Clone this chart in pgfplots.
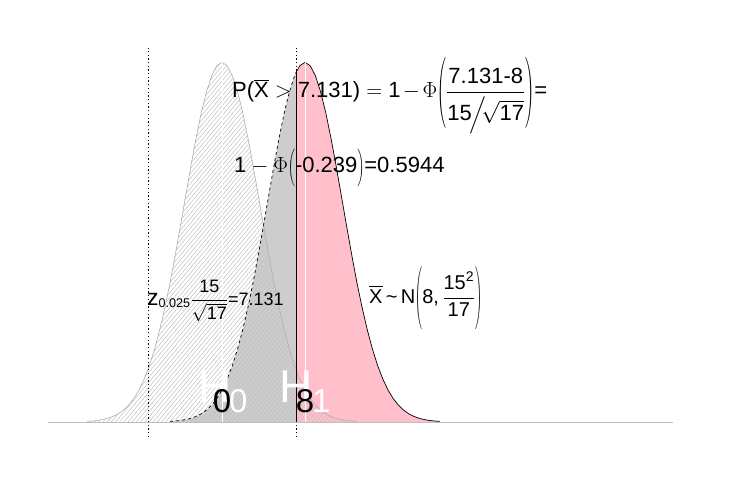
\RequirePackage{fix-cm}
\documentclass[border=0pt]{standalone}
\usepackage{amsmath}
\usepackage{graphicx}
\usepackage{fontspec}
\setmainfont{Liberation Sans}
\usepackage{pgfplots}
\usepackage{pgfplotstable}
\pgfplotsset{compat=1.18}
\usetikzlibrary{patterns.meta}

\definecolor{hfill}{RGB}{205,205,205}
\definecolor{hpink}{RGB}{255,192,203}
\definecolor{hatch}{RGB}{190,190,190}
\definecolor{hzeroline}{RGB}{175,175,175}
\definecolor{baseln}{RGB}{190,190,190}

% tall thin parentheses of a given width and total height, centred on the math axis
\newcommand{\lp}[2]{\mathopen{\vcenter{\hbox{\resizebox*{#1}{#2}{$\Biggl($}}}}}
\newcommand{\rp}[2]{\mathclose{\vcenter{\hbox{\resizebox*{#1}{#2}{$\Biggr)$}}}}}

% density of N(0, 15^2/17), x from -13 to 13
\pgfplotstableread{
x y
-13 0.000185
-12.5 0.000300
-12 0.000476
-11.5 0.000742
-11 0.001135
-10.5 0.001703
-10 0.002508
-9.5 0.003625
-9 0.005142
-8.5 0.007156
-8 0.009773
-7.5 0.013097
-7 0.017224
-6.5 0.022226
-6 0.028145
-5.5 0.034974
-5 0.042552
-4.5 0.051028
-4 0.059916
-3.5 0.069034
-3 0.078053
-2.5 0.086597
-2 0.094280
-1.5 0.100723
-1 0.105594
-0.5 0.108628
0 0.109659
0.5 0.108628
1 0.105594
1.5 0.100723
2 0.094280
2.5 0.086597
3 0.078053
3.5 0.069034
4 0.059916
4.5 0.051028
5 0.042552
5.5 0.034974
6 0.028145
6.5 0.022226
7 0.017224
7.5 0.013097
8 0.009773
8.5 0.007156
9 0.005142
9.5 0.003625
10 0.002508
10.5 0.001703
11 0.001135
11.5 0.000742
12 0.000476
12.5 0.000300
13 0.000185
}\hzero

% density of N(8, 15^2/17), left of the cut 7.131
\pgfplotstableread{
x y
-5 0.000185
-4.5 0.000300
-4 0.000476
-3.5 0.000742
-3 0.001135
-2.5 0.001703
-2 0.002508
-1.5 0.003625
-1 0.005142
-0.5 0.007156
0 0.009773
0.5 0.013097
1 0.017224
1.5 0.022226
2 0.028145
2.5 0.034974
3 0.042552
3.5 0.051028
4 0.059916
4.5 0.069034
5 0.078053
5.5 0.086597
6 0.094280
6.5 0.100723
7 0.105594
7.131 0.106575
}\honeleft

% density of N(8, 15^2/17), right of the cut 7.131
\pgfplotstableread{
x y
7.131 0.106575
7.5 0.108628
8 0.109659
8.5 0.108628
9 0.105594
9.5 0.100723
10 0.094280
10.5 0.086597
11 0.078053
11.5 0.069034
12 0.059916
12.5 0.051028
13 0.042552
13.5 0.034974
14 0.028145
14.5 0.022226
15 0.017224
15.5 0.013097
16 0.009773
16.5 0.007156
17 0.005142
17.5 0.003625
18 0.002508
18.5 0.001703
19 0.001135
19.5 0.000742
20 0.000476
20.5 0.000300
21 0.000185
}\honeright

\begin{document}
\begin{tikzpicture}
\useasboundingbox (0,0) rectangle (746pt,485pt);
\begin{axis}[
  at={(0,0)}, anchor=south west,
  scale only axis, width=746pt, height=485pt,
  xmin=-21.398, xmax=50.506,
  ymin=-0.019207, ymax=0.128659,
  hide axis, clip=false,
]
% baseline
\addplot[baseln, line width=1pt] coordinates {(-16.77,0) (43.47,0)};
% alternative hypothesis: acceptance part and rejection part
\addplot[fill=hfill, draw=none] table[x=x,y=y]{\honeleft} \closedcycle;
\addplot[fill=hpink, draw=none] table[x=x,y=y]{\honeright} \closedcycle;
% null hypothesis, hatched
\addplot[draw=none,
  pattern={Lines[angle=50,distance=3.2pt,line width=0.5pt]}, pattern color=hatch]
  table[x=x,y=y]{\hzero} \closedcycle;
\addplot[draw=hzeroline, line width=0.6pt] table[x=x,y=y]{\hzero};
% outline of the alternative density
\addplot[black, line width=0.7pt, dash pattern=on 3pt off 3pt] table[x=x,y=y]{\honeleft};
\addplot[black, line width=0.7pt] table[x=x,y=y]{\honeright};
\addplot[black, line width=0.8pt] coordinates {(7.131,0) (7.131,0.106575)};
% means
\addplot[white, line width=0.7pt] coordinates {(0,0) (0,0.109659)};
\addplot[white, line width=0.7pt] coordinates {(8,0) (8,0.109659)};
% critical values
\addplot[black, line width=0.8pt, dash pattern=on 1.3pt off 2.4pt] coordinates {(-7.131,-0.004573) (-7.131,0.11402)};
\addplot[black, line width=0.8pt, dash pattern=on 1.3pt off 2.4pt] coordinates {(7.131,-0.004573) (7.131,0.11402)};
\end{axis}

\begin{scope}[shift={(0pt,485pt)}, x=1pt, y=-1pt]
\node[anchor=base west, inner sep=0, white] at (279,402) {\fontsize{46}{46}\selectfont H};
\node[anchor=base west, inner sep=0, white] at (312,412) {\fontsize{33}{33}\selectfont 1};
\node[anchor=base west, inner sep=0, white] at (198,402) {\fontsize{46}{46}\selectfont H};
\node[anchor=base west, inner sep=0, white] at (229,412) {\fontsize{33}{33}\selectfont 0};
\node[anchor=base, inner sep=0] at (222,412) {\fontsize{33}{33}\selectfont 0};
\node[anchor=base, inner sep=0] at (305,412) {\fontsize{33}{33}\selectfont 8};

\node[anchor=base west, inner sep=0] at (232,98) {\fontsize{22}{26}\selectfont
  $\text{P(}\overline{\text{X}} > \text{7.131)} = \text{1} \mkern-2mu-\mkern-2mu \Phi\lp{9pt}{75pt}\dfrac{\text{7.131-8}}{\text{15}\mkern-2mu\Big/\mkern-4mu\sqrt{\text{17}}}\rp{9pt}{75pt}\text{=}$};
\node[anchor=base west, inner sep=0] at (234,173) {\fontsize{22}{26}\selectfont
  $\text{1} - \Phi\lp{7pt}{40pt}\text{-0.239}\rp{7pt}{40pt}\text{=0.5944}$};
\node[anchor=base west, inner sep=0] at (147,305) {\fontsize{18}{22}\selectfont
  $\text{\fontsize{23}{23}\selectfont z}_{\text{0.025}}\dfrac{\text{15}}{\sqrt{\text{17}}}\text{=7.131}$};
\node[anchor=base west, inner sep=0] at (369,303) {\fontsize{20}{24}\selectfont
  $\overline{\text{X}}\text{\,\char`\~\,N}\lp{7pt}{63pt}\text{8,}\,\dfrac{\text{15}^{\text{2}}}{\text{17}}\rp{7pt}{63pt}$};
\end{scope}
\end{tikzpicture}
\end{document}
